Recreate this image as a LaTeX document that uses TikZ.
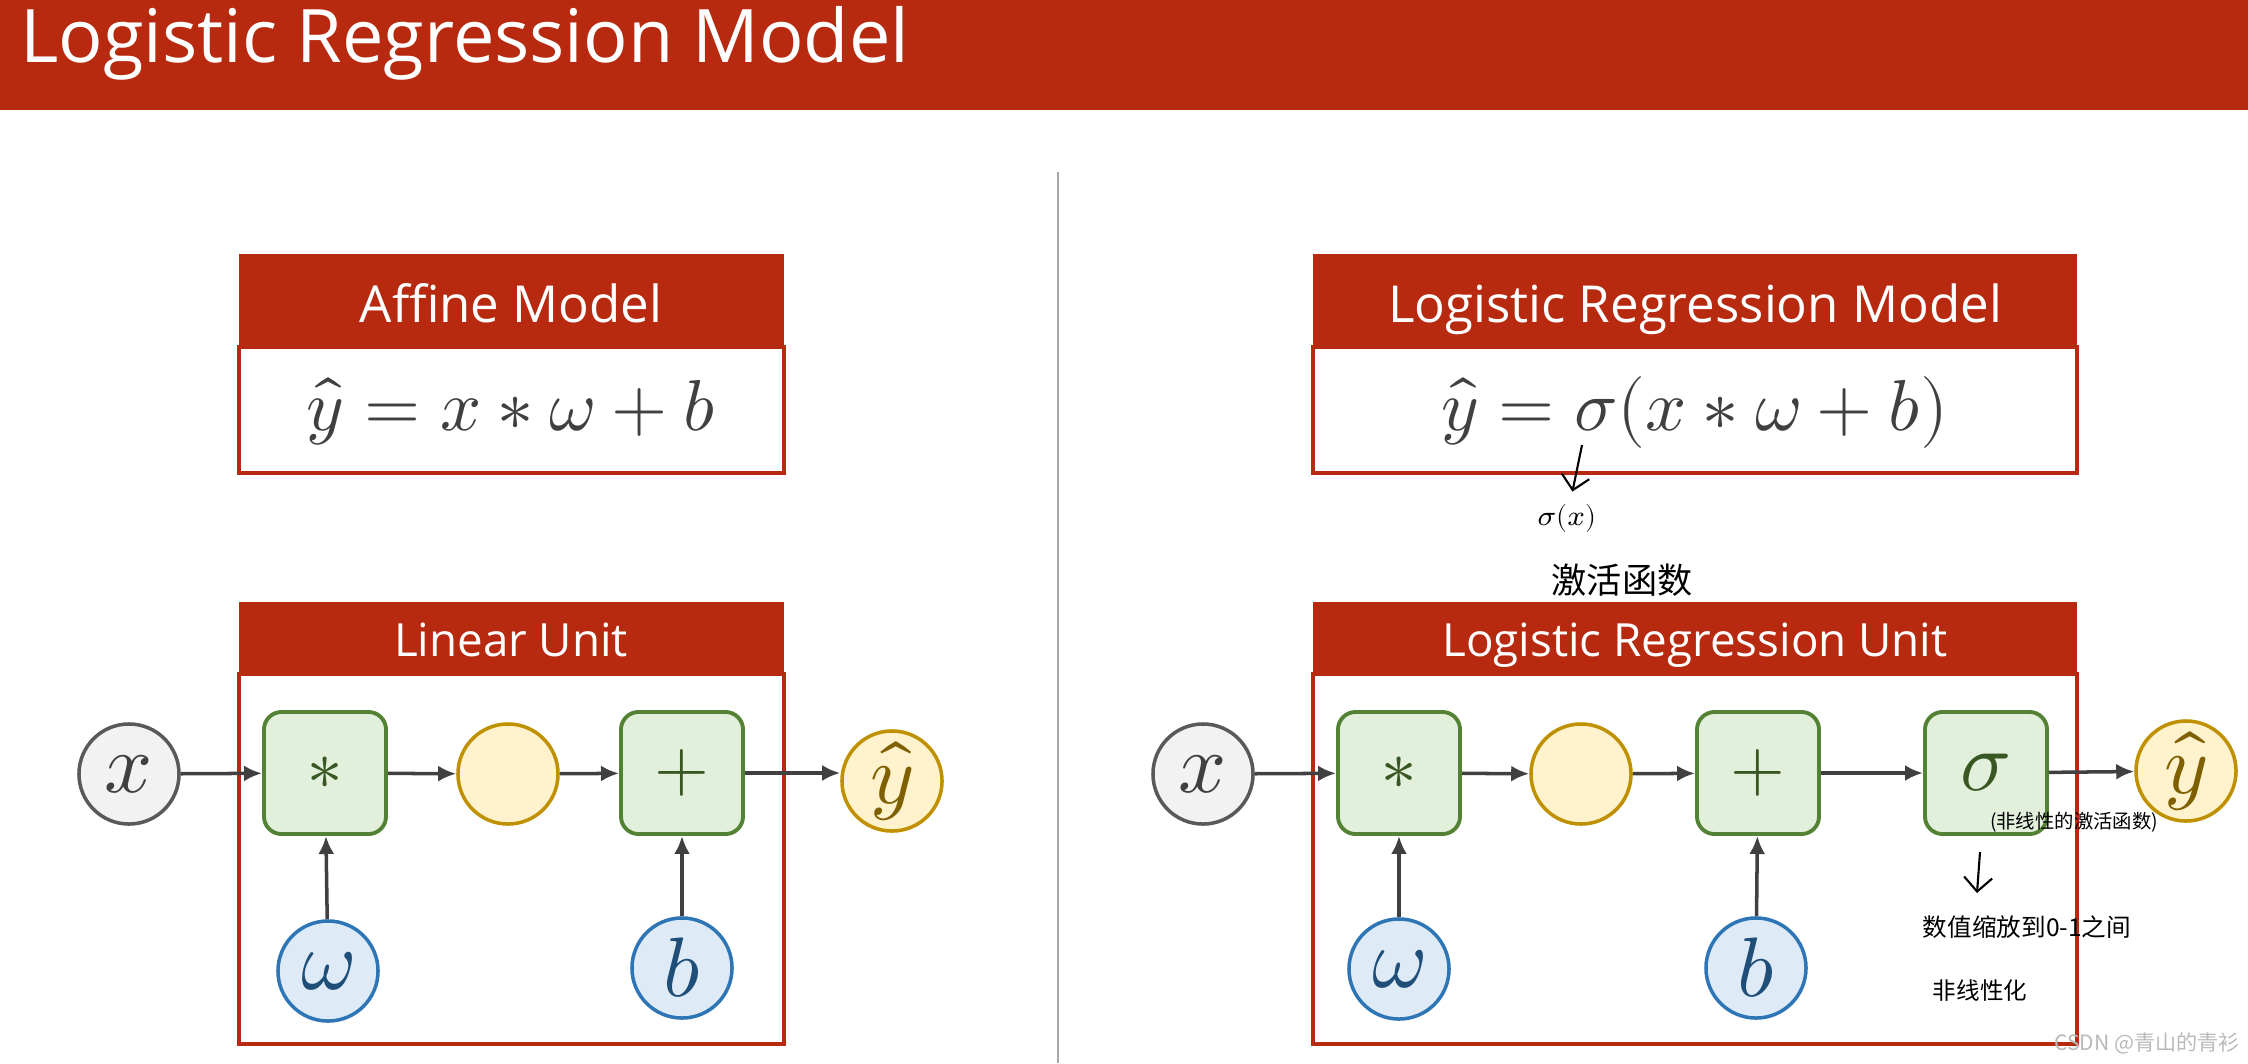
\documentclass[tikz,border=0pt]{standalone}
\usepackage{fontspec}
\usepackage{unicode-math}
\setmainfont{Open Sans}
\setmathfont{Latin Modern Math}
\newfontfamily\cjk{Noto Sans CJK SC}
\usetikzlibrary{arrows.meta}

\definecolor{slidered}{RGB}{184,42,16}
\definecolor{opline}{RGB}{84,130,53}
\definecolor{opfill}{RGB}{226,239,218}
\definecolor{optext}{RGB}{56,87,35}
\definecolor{valline}{RGB}{191,144,0}
\definecolor{valfill}{RGB}{255,242,204}
\definecolor{valtext}{RGB}{127,96,0}
\definecolor{parline}{RGB}{46,117,182}
\definecolor{parfill}{RGB}{222,235,247}
\definecolor{partext}{RGB}{31,78,121}
\definecolor{inline}{RGB}{89,89,89}
\definecolor{infill}{RGB}{242,242,242}
\definecolor{darkgray}{RGB}{64,64,64}

\tikzset{
	opbox/.style={draw=opline, fill=opfill, line width=1.1pt, rounded corners=5pt,
		minimum size=1.22cm, inner sep=0pt, text=optext, font=\fontsize{20}{20}\selectfont},
	var/.style={circle, line width=1pt, minimum size=1cm, inner sep=0pt, font=\fontsize{24}{24}\selectfont},
	invar/.style={var, draw=inline, fill=infill, text=darkgray},
	midvar/.style={var, draw=valline, fill=valfill, text=valtext},
	parvar/.style={var, draw=parline, fill=parfill, text=partext},
	flow/.style={draw=darkgray, line width=1pt, -{Latex[length=1.8mm, width=1.6mm]}},
	hand/.style={draw=black, line width=0.6pt, -{Straight Barb[length=1.4mm]}},
	modelhead/.style={anchor=base, text=white, font=\fontsize{14.5}{17}\selectfont},
	unithead/.style={anchor=base, text=white, font=\fontsize{13}{15}\selectfont},
	eqtext/.style={anchor=base, text=darkgray, font=\fontsize{20.5}{24}\selectfont},
	handtext/.style={text=black, font=\cjk\fontsize{#1}{#1}\selectfont},
}

\begin{document}
\begin{tikzpicture}[x=0.01cm, y=-0.01cm]
\useasboundingbox (0,0) rectangle (2248,1063);

%title
\fill[slidered] (0,0) rectangle (2248,110);
\node[anchor=base west, text=white, font=\fontsize{21}{25}\selectfont] (title) at (8,62) {Logistic Regression Model};

%divider
\coordinate (divtop) at (1058,172);
\coordinate (divbot) at (1058,1063);
\draw[gray!70, line width=0.5pt] (divtop) -- (divbot);

%affine model
\fill[slidered] (239,254) rectangle (784,347);
\draw[slidered, line width=1pt] (239,347) rectangle (784,473);
\node[modelhead] (affinehead) at (511,322) {Affine Model};
\node[eqtext] (affineeq) at (511,430) {$\hat{y} = x * \omega + b$};

%linear unit
\fill[slidered] (239,602) rectangle (784,674);
\draw[slidered, line width=1pt] (239,674) rectangle (784,1044);
\node[unithead] (linhead) at (511,656) {Linear Unit};

\node[invar] (x1) at (129,774) {$x$};
\node[opbox] (mul1) at (325,773) {$*$};
\node[midvar] (h1) at (508,774) {};
\node[opbox] (add1) at (682,773) {$+$};
\node[midvar] (y1) at (892,781) {$\hat{y}$};
\node[parvar] (w1) at (328,971) {$\omega$};
\node[parvar] (b1) at (682,968) {$b$};

\draw[flow] (x1) -- (mul1);
\draw[flow] (mul1) -- (h1);
\draw[flow] (h1) -- (add1);
\draw[flow] (add1) -- (add1 -| y1.west);
\draw[flow] (w1) -- (mul1);
\draw[flow] (b1) -- (add1);

%logistic regression model
\fill[slidered] (1313,254) rectangle (2077,347);
\draw[slidered, line width=1pt] (1313,347) rectangle (2077,473);
\node[modelhead] (logihead) at (1695,322) {Logistic Regression Model};
\node[eqtext] (logieq) at (1695,430) {$\hat{y} = \sigma(x * \omega + b)$};

%logistic regression unit
\fill[slidered] (1313,602) rectangle (2077,674);
\draw[slidered, line width=1pt] (1313,674) rectangle (2077,1044);
\node[unithead] (logiunit) at (1695,656) {Logistic Regression Unit};

\node[invar] (x2) at (1203,774) {$x$};
\node[opbox] (mul2) at (1399,773) {$*$};
\node[midvar] (h2) at (1581,774) {};
\node[opbox] (add2) at (1758,773) {$+$};
\node[opbox, font=\fontsize{24}{24}\selectfont] (sig2) at (1986,773) {$\sigma$};
\node[midvar] (y2) at (2186,771) {$\hat{y}$};
\node[parvar] (w2) at (1399,969) {$\omega$};
\node[parvar] (b2) at (1756,968) {$b$};

\draw[flow] (x2) -- (mul2);
\draw[flow] (mul2) -- (h2);
\draw[flow] (h2) -- (add2);
\draw[flow] (add2) -- (sig2);
\draw[flow] (sig2) -- (y2);
\draw[flow] (w2) -- (mul2);
\draw[flow] (b2) -- (add2);

%handwritten notes
\coordinate (sigsrc) at (1582,445);
\node[text=black, font=\fontsize{8}{8}\selectfont] (sigx) at (1567,518) {$\sigma(x)$};
\draw[hand] (sigsrc) -- (sigx);
\node[handtext=10] (act) at (1622,580) {激活函数};

\node[handtext=5.5] (nlact) at (2074,822) {(非线性的激活函数)};
\coordinate (sigbelow) at (1980,852);
\coordinate (squashtip) at (1977,893);
\draw[hand] (sigbelow) -- (squashtip);
\node[handtext=7] (squash) at (2027,927) {数值缩放到0-1之间};
\node[handtext=6.7] (nonlin) at (1980,991) {非线性化};

\node[text=gray!55, font=\cjk\fontsize{6}{6}\selectfont] (mark) at (2147,1043) {CSDN @青山的青衫};

\end{tikzpicture}
\end{document}
